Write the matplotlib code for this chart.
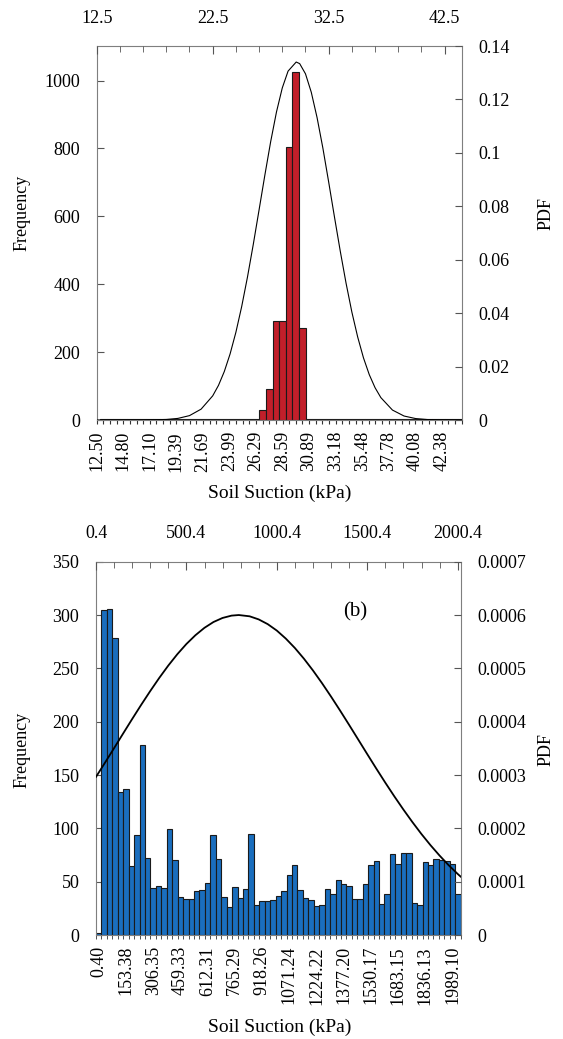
import numpy as np
import matplotlib
matplotlib.use('Agg')
import matplotlib.pyplot as plt
from matplotlib.ticker import FixedLocator, FuncFormatter

plt.rcParams['font.family'] = ['Liberation Serif', 'DejaVu Serif']
plt.rcParams['font.size'] = 13

# (a) 土壤吸力直方圖，上方數值軸 + 常態 PDF
a_counts = [1, 2, 4, 4, 4, 2, 4, 2, 2, 4, 4, 4, 2, 4, 2, 2, 4, 2, 4, 4, 4, 2, 4, 4, 4,
            28, 90, 292, 292, 804, 1025, 272,
            4, 4, 4, 2, 4, 4, 4, 2, 4, 4, 4, 2, 4, 4, 4, 2, 4, 4, 4, 2, 4, 4, 4, 4]
a_labels = ['12.50', '14.80', '17.10', '19.39', '21.69', '23.99', '26.29',
            '28.59', '30.89', '33.18', '35.48', '37.78', '40.08', '42.38']
a_top_labels = [12.5, 22.5, 32.5, 42.5]
a_pdf_x = [12.5, 14.5, 16.5, 18.5, 19.5, 20.5, 21.5, 22.5, 23.0, 23.5, 24.0, 24.5,
           25.0, 25.5, 26.0, 26.5, 27.0, 27.5, 28.0, 28.5, 29.0, 29.7, 30.0, 30.5,
           31.0, 31.5, 32.0, 32.5, 33.0, 33.5, 34.0, 34.5, 35.0, 35.5, 36.0, 36.5,
           37.0, 38.0, 39.0, 40.0, 41.0, 42.0, 43.97]
a_pdf_y = [0.0, 0.000001, 0.0000156, 0.000196, 0.000598, 0.00164, 0.00406, 0.00903,
           0.01296, 0.01813, 0.02472, 0.03282, 0.04246, 0.05352, 0.06573, 0.07866,
           0.0917, 0.1042, 0.1153, 0.1243, 0.1306, 0.134, 0.1334, 0.1296, 0.1227,
           0.1132, 0.1018, 0.0891, 0.0760, 0.0632, 0.0512, 0.0404, 0.0311, 0.02328,
           0.01699, 0.01209, 0.00838, 0.00372, 0.00149, 0.000536, 0.000174, 0.000051,
           0.0]

# (b)
b_counts = [2, 305, 306, 278, 134, 137, 65, 94, 178, 72, 44, 46, 44, 99, 70, 36, 34,
            34, 41, 42, 49, 94, 71, 36, 26, 45, 35, 43, 95, 28, 32, 32, 33, 37, 41,
            56, 66, 42, 35, 33, 27, 28, 43, 38, 52, 48, 46, 34, 34, 48, 66, 69, 29,
            38, 76, 67, 77, 77, 30, 28, 68, 66, 71, 70, 69, 67, 38]
b_labels = ['0.40', '153.38', '306.35', '459.33', '612.31', '765.29', '918.26',
            '1071.24', '1224.22', '1377.20', '1530.17', '1683.15', '1836.13', '1989.10']
b_top_labels = [0.4, 500.4, 1000.4, 1500.4, 2000.4]
b_pdf_x = [0.4, 50, 100, 150, 200, 250, 300, 350, 400, 450, 500, 550, 600, 650, 700,
           750, 790, 850, 900, 950, 1000, 1050, 1100, 1150, 1200, 1250, 1300, 1350,
           1400, 1450, 1500, 1550, 1600, 1650, 1700, 1750, 1800, 1850, 1900, 1950,
           2000, 2017]
b_pdf_y = [0.0002965, 0.0003230, 0.0003502, 0.0003776, 0.0004048, 0.0004315,
           0.0004573, 0.0004820, 0.0005052, 0.0005265, 0.0005456, 0.0005621,
           0.0005760, 0.0005869, 0.0005945, 0.0005989, 0.0006, 0.0005976, 0.0005918,
           0.0005829, 0.0005709, 0.0005558, 0.0005382, 0.0005182, 0.0004961,
           0.0004723, 0.0004471, 0.0004209, 0.0003940, 0.0003667, 0.0003393,
           0.0003122, 0.0002857, 0.0002600, 0.0002353, 0.0002117, 0.0001893,
           0.0001684, 0.0001490, 0.0001310, 0.0001146, 0.0001094]

W, H = 563, 1039
fig = plt.figure(figsize=(W / 100, H / 100), dpi=100)
spine_c = '#7f7f7f'


def px(x0, y0, x1, y1):
    return [x0 / W, 1 - y1 / H, (x1 - x0) / W, (y1 - y0) / H]


def fmt(v, pos):
    return '%g' % round(v, 6)


def draw(rect, counts, labels, step, on_tick, color, ymax, yticks, top_lim, top_major,
         top_minor, pdf_x, pdf_y, pdf_max, pdf_ticks, lw, tag=None):
    ax = fig.add_axes(rect)
    n = len(counts)
    ax.bar(range(n), counts, width=1.0, color=color, edgecolor='#1a1a1a',
           linewidth=0.8, zorder=2)
    if on_tick:
        ax.set_xlim(0, n - 1)
        ax.set_xticks(range(n))
        ax.set_xticklabels([labels[i // step] if i % step == 0 and i // step < len(labels)
                            else '' for i in range(n)], rotation=90)
        ax.tick_params(axis='x', direction='out', length=3, pad=5, color='#333333')
    else:
        ax.set_xlim(-0.5, n - 0.5)
        ax.set_xticks(range(0, n, step))
        ax.set_xticklabels(labels, rotation=90)
        ax.set_xticks(np.arange(-0.5, n, 1), minor=True)
        ax.tick_params(axis='x', which='major', length=0, pad=8)
        ax.tick_params(axis='x', which='minor', direction='out', length=3,
                       color='#333333')
    ax.set_ylim(0, ymax)
    ax.set_yticks(yticks)
    ax.tick_params(axis='y', direction='in', length=5, pad=12, color='#555555')
    for s in ax.spines.values():
        s.set_color(spine_c)

    ac = fig.add_axes(rect)
    ac.patch.set_visible(False)
    for s in ac.spines.values():
        s.set_visible(False)
    ac.plot(pdf_x, pdf_y, color='black', linewidth=lw, zorder=3,
            solid_joinstyle='round')
    ac.set_xlim(*top_lim)
    ac.set_ylim(0, pdf_max)
    ac.xaxis.tick_top()
    ac.yaxis.tick_right()
    ac.xaxis.set_major_locator(FixedLocator(top_major))
    ac.xaxis.set_minor_locator(FixedLocator(top_minor))
    ac.xaxis.set_major_formatter(FuncFormatter(fmt))
    ac.yaxis.set_major_locator(FixedLocator(pdf_ticks))
    ac.yaxis.set_major_formatter(FuncFormatter(fmt))
    ac.tick_params(axis='x', which='major', direction='in', length=6, pad=14,
                   color='#555555')
    ac.tick_params(axis='x', which='minor', direction='in', length=4, color='#555555')
    ac.tick_params(axis='y', direction='in', length=5, pad=12, color='#555555')
    if tag:
        ac.text(0.71, 0.865, tag, transform=ac.transAxes, ha='center', va='center',
                fontsize=15)
    return ax


draw(px(96.7, 46, 461.7, 420), a_counts, a_labels, 4, True, '#C21F2A', 1102,
     range(0, 1001, 200), (12.5, 43.97), a_top_labels, np.arange(12.5, 44, 2),
     a_pdf_x, a_pdf_y, 0.14, np.arange(0, 0.141, 0.02), 0.8)
draw(px(96, 561.7, 460.7, 935), b_counts, b_labels, 5, False, '#1A6EBE', 350,
     range(0, 351, 50), (0.4, 2017), b_top_labels, np.arange(0.4, 2017, 100),
     b_pdf_x, b_pdf_y, 0.0007, np.arange(0, 0.00071, 0.0001), 1.3, tag='(b)')

for y in (213, 750):
    fig.text(22 / W, 1 - y / H, 'Frequency', rotation=90, ha='center', va='center',
             fontsize=13)
    fig.text(546 / W, 1 - y / H, 'PDF', rotation=90, ha='center', va='center',
             fontsize=13)
for y in (493, 1027):
    fig.text(280 / W, 1 - y / H, 'Soil Suction (kPa)', ha='center', va='center',
             fontsize=14)

fig.savefig('out.png', dpi=100)
